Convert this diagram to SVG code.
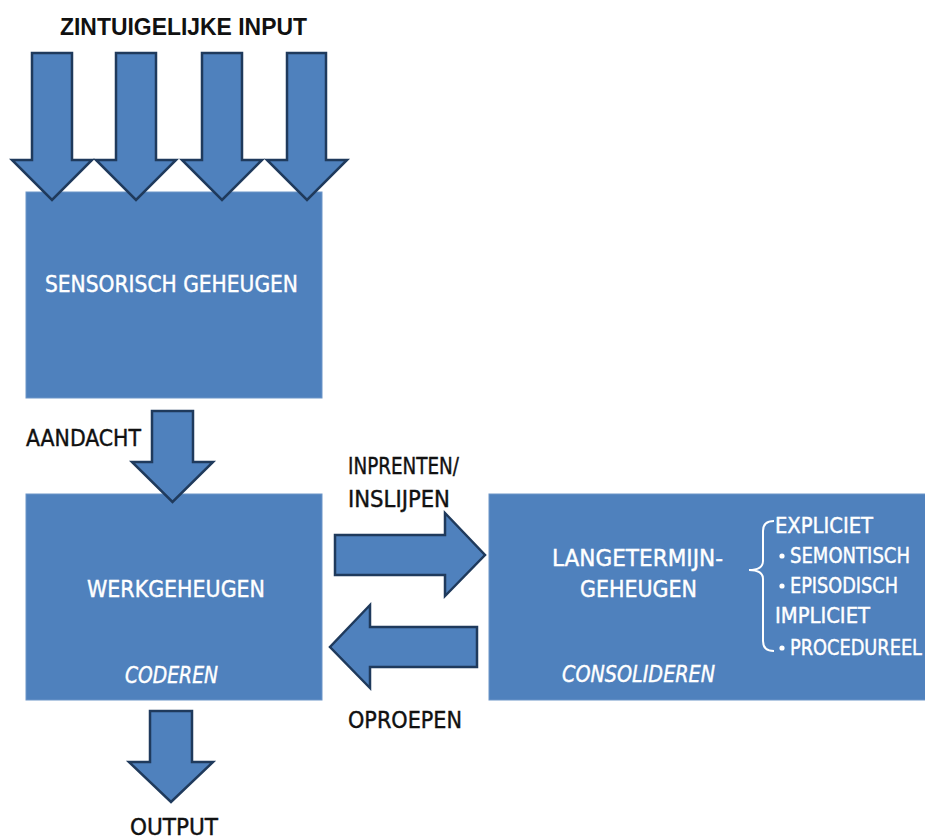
<svg xmlns="http://www.w3.org/2000/svg" width="925" height="839" viewBox="0 0 925 839">
<style>
.box{fill:#4F81BD;stroke:#6D95C8;stroke-width:1}
.arr{fill:#4F81BD;stroke:#1F3A5C;stroke-width:2.5;stroke-linejoin:miter}
.w{font-family:"DejaVu Sans Condensed","Liberation Sans",sans-serif;fill:#FFFFFF;stroke:#FFFFFF;stroke-width:0.4;font-size:23px}
.wi{font-style:italic}
.k{font-family:"DejaVu Sans Condensed","Liberation Sans",sans-serif;fill:#111111;stroke:#111111;stroke-width:0.4;font-size:23px}
.t{font-family:"Liberation Sans","DejaVu Sans",sans-serif;font-weight:bold;fill:#111111;font-size:23px}
.s{font-size:21px}
</style>
<rect width="925" height="839" fill="#FFFFFF"/>
<g id="sensorisch">
<rect class="box" x="26" y="192" width="296" height="206"/>
<text class="w" x="45" y="292" textLength="253" lengthAdjust="spacingAndGlyphs">SENSORISCH GEHEUGEN</text>
</g>
<g id="werkgeheugen">
<rect class="box" x="26" y="494" width="296" height="206"/>
<text class="w" x="87" y="597" textLength="178" lengthAdjust="spacingAndGlyphs">WERKGEHEUGEN</text>
<text class="w wi" x="125" y="683" textLength="93" lengthAdjust="spacingAndGlyphs">CODEREN</text>
</g>
<g id="langetermijn">
<rect class="box" x="489" y="494" width="440" height="206"/>
<text class="w" x="552" y="566" textLength="171" lengthAdjust="spacingAndGlyphs">LANGETERMIJN-</text>
<text class="w" x="580" y="597" textLength="117" lengthAdjust="spacingAndGlyphs">GEHEUGEN</text>
<text class="w wi" x="562" y="682" textLength="153" lengthAdjust="spacingAndGlyphs">CONSOLIDEREN</text>
<path d="M774 521 Q763 521 763 531 L763 561 Q763 570 749 570 Q763 570 763 579 L763 641 Q763 651 774 651" fill="none" stroke="#FFFFFF" stroke-width="2"/>
<text class="w s" x="775" y="533" textLength="98" lengthAdjust="spacingAndGlyphs">EXPLICIET</text>
<circle cx="782" cy="556" r="2.6" fill="#FFFFFF"/>
<text class="w s" x="790" y="563" textLength="120" lengthAdjust="spacingAndGlyphs">SEMONTISCH</text>
<circle cx="782" cy="586" r="2.6" fill="#FFFFFF"/>
<text class="w s" x="790" y="593" textLength="108" lengthAdjust="spacingAndGlyphs">EPISODISCH</text>
<text class="w s" x="775" y="623" textLength="95" lengthAdjust="spacingAndGlyphs">IMPLICIET</text>
<circle cx="782" cy="648" r="2.6" fill="#FFFFFF"/>
<text class="w s" x="790" y="655" textLength="132" lengthAdjust="spacingAndGlyphs">PROCEDUREEL</text>
</g>
<g id="connectors">
<polygon class="arr" points="32,53 72,53 72,160 92,160 52,200 12,160 32,160"/>
<polygon class="arr" points="116,53 156,53 156,160 176,160 136,200 96,160 116,160"/>
<polygon class="arr" points="202,53 242,53 242,160 262,160 222,200 182,160 202,160"/>
<polygon class="arr" points="287,53 326,53 326,160 347,160 307,200 267,160 287,160"/>
<polygon class="arr" points="152,411 193,411 193,462 213,462 172.5,502 132,462 152,462"/>
<polygon class="arr" points="150,711 192,711 192,762 213,762 171,802 129,762 150,762"/>
<polygon class="arr" points="335,535 445,535 445,513 485,555 445,596 445,575 335,575"/>
<polygon class="arr" points="477,627 370,627 370,605 330,647 370,688 370,667 477,667"/>
</g>
<g id="labels">
<text class="t" x="60" y="35" textLength="247" lengthAdjust="spacingAndGlyphs">ZINTUIGELIJKE INPUT</text>
<text class="k" x="26" y="446" textLength="115" lengthAdjust="spacingAndGlyphs">AANDACHT</text>
<text class="k" x="348" y="474" textLength="111" lengthAdjust="spacingAndGlyphs">INPRENTEN/</text>
<text class="k" x="348" y="507" textLength="102" lengthAdjust="spacingAndGlyphs">INSLIJPEN</text>
<text class="k" x="348" y="728" textLength="114" lengthAdjust="spacingAndGlyphs">OPROEPEN</text>
<text class="k" x="130" y="835" textLength="88" lengthAdjust="spacingAndGlyphs">OUTPUT</text>
</g>
</svg>
